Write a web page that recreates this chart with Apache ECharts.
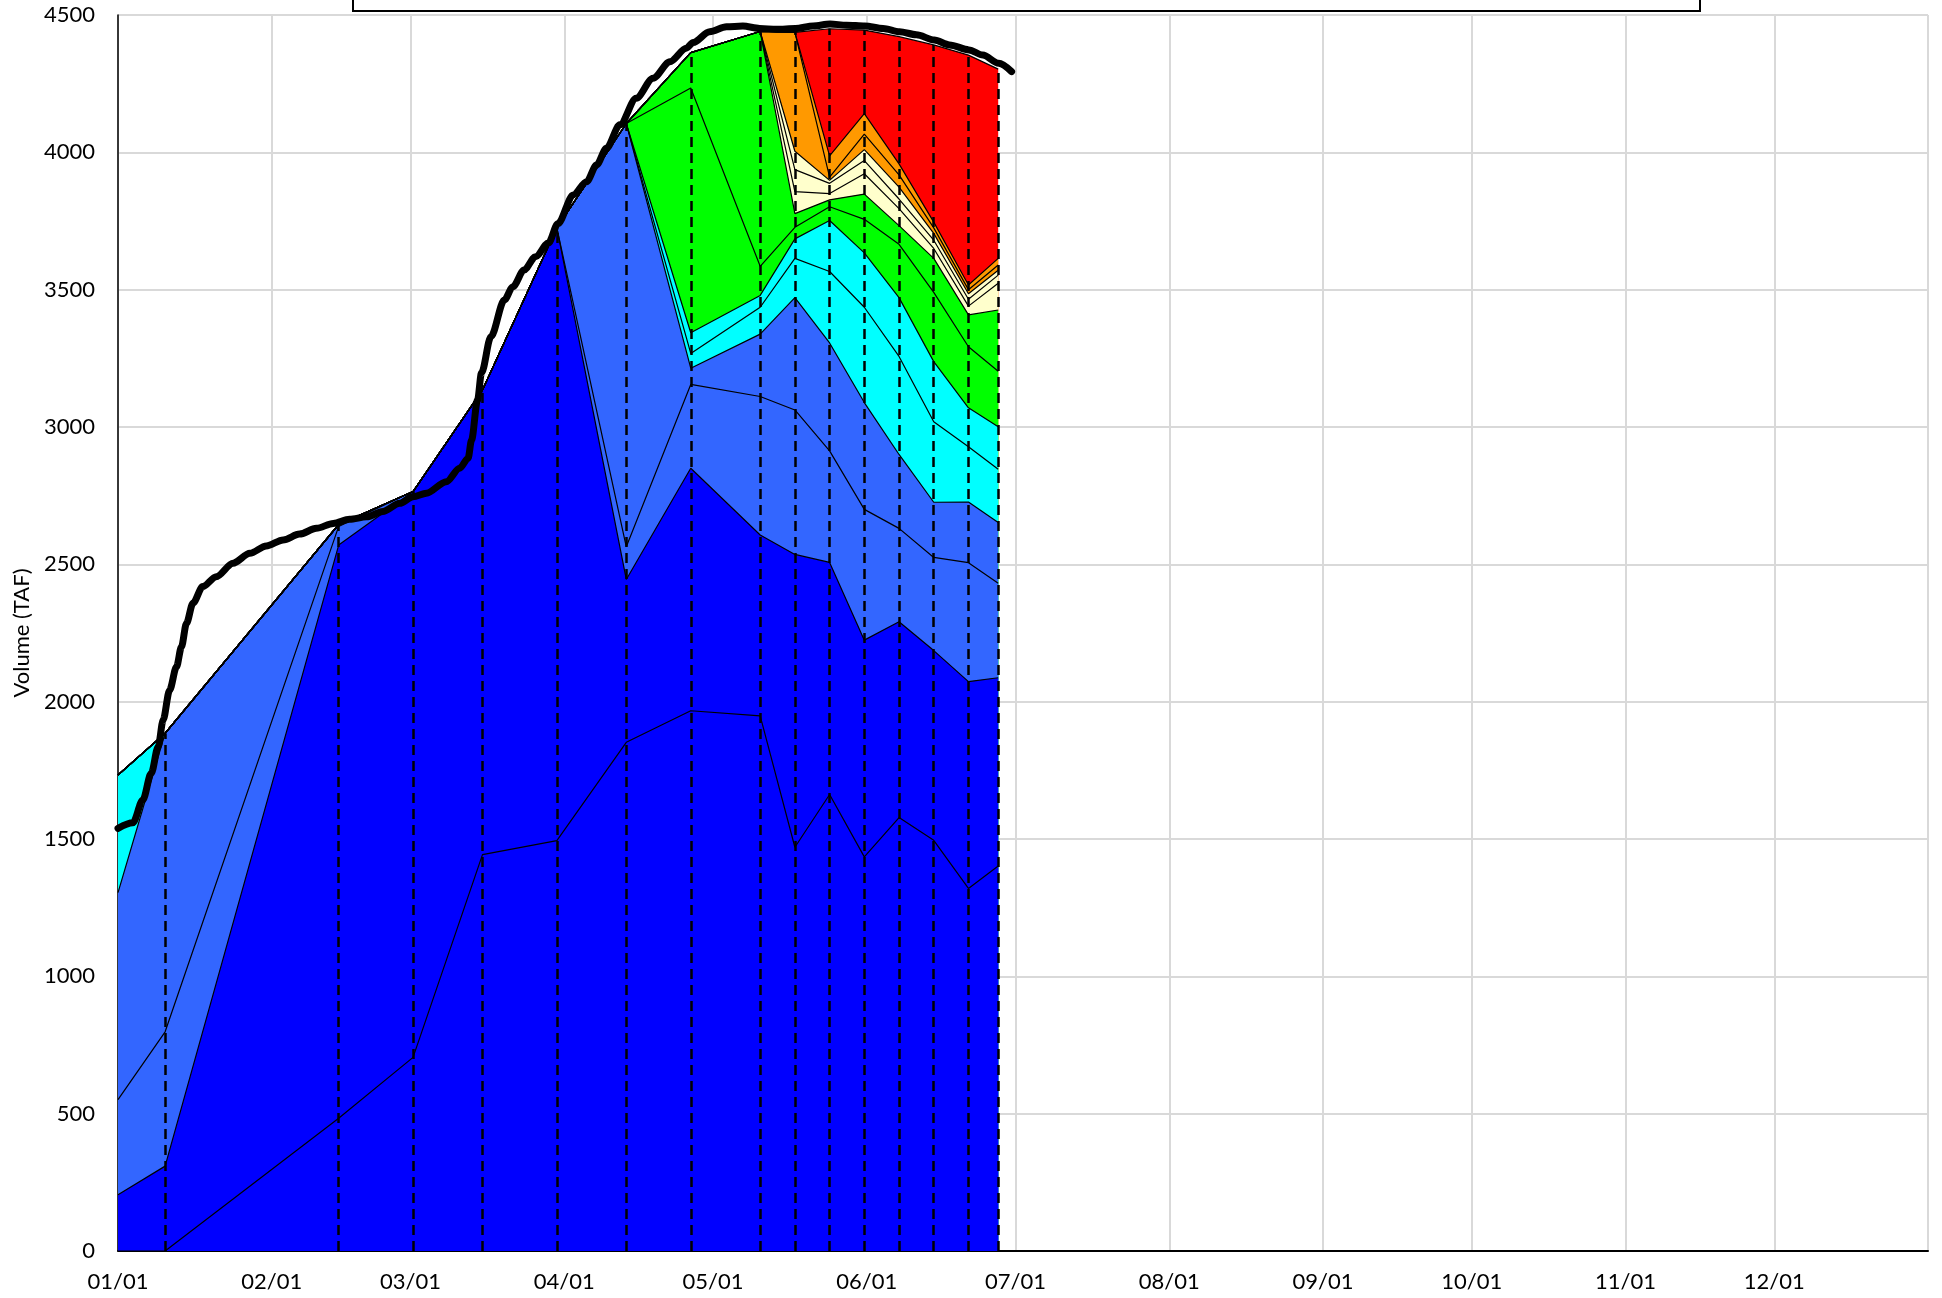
<!DOCTYPE html>
<html><head><meta charset="utf-8">
<script src="https://cdn.jsdelivr.net/npm/echarts@6/dist/echarts.min.js"></script>
<style>html,body{margin:0;padding:0;background:#fff}#c{width:1942px;height:1298px}</style>
</head><body><div id="c"></div>
<script>
// ---- data ----
const YEAR_START = new Date(2023, 0, 1).getTime();
const DAY = 86400000;
// forecast dates as day offsets from 01/01
const fcDays = [0, 9.5, 44.5, 59.5, 73.5, 88.5, 102.5, 115.5, 129.5, 136.5, 143.5, 150.5, 157.5, 164.5, 171.5, 177.5];
// cumulative layer tops (TAF), bottom layer first
const L1  = [0, 0, 483, 705, 1443, 1494, 1852, 1967, 1948, 1470, 1662, 1435, 1578, 1495, 1320, 1402];
const L2  = [205, 309, 2570, 2765, 3135, 3725, 2445, 2850, 2607, 2536, 2507, 2224, 2291, 2186, 2073, 2087];
const L3  = [551, 798, 2638, 2765, 3135, 3725, 2564, 3155, 3111, 3062, 2913, 2700, 2631, 2525, 2506, 2431];
const L4  = [1305, 1885, 2645, 2765, 3135, 3725, 4105, 3214, 3338, 3471, 3306, 3089, 2900, 2726, 2727, 2652];
const L5  = [1733, 1885, 2645, 2765, 3135, 3725, 4105, 3268, 3436, 3614, 3566, 3436, 3257, 3019, 2928, 2846];
const L6  = [1733, 1885, 2645, 2765, 3135, 3725, 4105, 3343, 3479, 3685, 3752, 3634, 3471, 3238, 3070, 3001];
const L7  = [1733, 1885, 2645, 2765, 3135, 3725, 4105, 4234, 3585, 3727, 3802, 3756, 3665, 3490, 3292, 3203];
const L8  = [1733, 1885, 2645, 2765, 3135, 3725, 4105, 4363, 4440, 3777, 3827, 3848, 3733, 3614, 3408, 3426];
const L9  = [1733, 1885, 2645, 2765, 3135, 3725, 4105, 4363, 4440, 3857, 3850, 3922, 3795, 3650, 3440, 3523];
const L10 = [1733, 1885, 2645, 2765, 3135, 3725, 4105, 4363, 4440, 3937, 3887, 3970, 3830, 3680, 3465, 3553];
const L11 = [1733, 1885, 2645, 2765, 3135, 3725, 4105, 4363, 4440, 4004, 3898, 4010, 3873, 3705, 3485, 3571];
const L12 = [1733, 1885, 2645, 2765, 3135, 3725, 4105, 4363, 4440, 4437, 3910, 4066, 3918, 3725, 3500, 3590];
const L13 = [1733, 1885, 2645, 2765, 3135, 3725, 4105, 4363, 4440, 4437, 3987, 4141, 3958, 3746, 3517, 3614];
const L14 = [1733, 1885, 2645, 2765, 3135, 3725, 4105, 4363, 4440, 4437, 4450, 4445, 4421, 4391, 4354, 4303];
const layerColors = ['#0000FF', '#0000FF', '#3366FF', '#3366FF', '#00FFFF', '#00FFFF', '#00FF00', '#00FF00',
                     '#FFFFCC', '#FFFFCC', '#FFFFCC', '#FF9900', '#FF9900', '#FF0000'];
// observed volume (thick black line)
const obsDays = [0, 3.0, 5.0, 6.7, 8.1, 9.1, 10.4, 11.8, 12.8, 13.8, 15.1, 17.1, 19.8, 23.2, 26.6, 29.9, 33.3, 36.6, 40.0,
  43.4, 46.7, 50.1, 53.4, 56.8, 59.5, 62.2, 66.2, 68.9, 70.6, 71.3, 72.5, 73.3, 75.2, 77.9, 79.6, 81.9, 84.2, 86.8,
  88.7, 91.8, 94.5, 96.5, 98.5, 101.2, 104.5, 107.9, 111.3, 114.6, 116.0, 119.3, 122.7, 126.0, 129.4, 132.8, 136.6,
  140.2, 143.6, 146.9, 150.6, 154.3, 157.6, 161.0, 164.6, 167.7, 171.6, 174.4, 177.6, 180.2];
const obsVals = [1539, 1559, 1642, 1739, 1836, 1933, 2042, 2127, 2200, 2285, 2358, 2419, 2455, 2504, 2540, 2567, 2589, 2610, 2631,
  2649, 2664, 2673, 2692, 2722, 2746, 2759, 2801, 2850, 2886, 2953, 3098, 3197, 3329, 3462, 3510, 3572, 3620, 3670,
  3740, 3845, 3893, 3954, 4015, 4100, 4197, 4270, 4330, 4379, 4400, 4439, 4457, 4460, 4451, 4448, 4451,
  4460, 4467, 4463, 4460, 4451, 4439, 4428, 4409, 4391, 4373, 4354, 4324, 4294];
const yMin = 0, yMax = 4500, yStep = 500;

// ---- chart ----
const toTime = d => YEAR_START + d * DAY;
const layers = [L1, L2, L3, L4, L5, L6, L7, L8, L9, L10, L11, L12, L13, L14];
const FONT = 'Lato';
const series = [];
for (let k = layers.length - 1; k >= 0; k--) {
  series.push({
    type: 'line', name: 'L' + (k + 1),
    data: fcDays.map((d, i) => [toTime(d), layers[k][i]]),
    symbol: 'none', silent: true, animation: false, z: 2,
    lineStyle: { color: '#000', width: 1.2 },
    areaStyle: { color: layerColors[k], opacity: 1 }
  });
}
series.push({
  type: 'line', name: 'dash',
  data: fcDays.map((d, i) => [toTime(d), L14[i]]),
  symbol: 'none', silent: true, animation: false, z: 3,
  lineStyle: { opacity: 0 },
  markLine: {
    silent: true, animation: false, symbol: ['none', 'none'],
    label: { show: false },
    lineStyle: { color: '#000', type: [10, 6], width: 2.5 },
    emphasis: { disabled: true },
    data: fcDays.slice(1).map((d, i) => [{ coord: [toTime(d), 0] }, { coord: [toTime(d), L14[i + 1]] }])
  }
});
series.push({
  type: 'line', name: 'obs',
  data: obsDays.map((d, i) => [toTime(d), obsVals[i]]),
  symbol: 'none', silent: true, animation: false, z: 4,
  smooth: 0.3, smoothMonotone: 'x',
  lineStyle: { color: '#000', width: 7, cap: 'round', join: 'round' }
});

const chart = echarts.init(document.getElementById('c'), null, { renderer: 'canvas' });
chart.setOption({
  animation: false,
  backgroundColor: '#fff',
  grid: { left: 118, right: 14, top: 15, bottom: 47, containLabel: false, outerBoundsMode: 'none' },
  xAxis: {
    type: 'time', min: YEAR_START, max: YEAR_START + 365 * DAY - 60000,
    splitNumber: 12, minInterval: 28 * DAY, maxInterval: 31 * DAY,
    axisLine: { show: true, lineStyle: { color: '#000', width: 2 } },
    axisTick: { show: false },
    splitLine: { show: true, lineStyle: { color: '#d9d9d9', width: 2 } },
    axisLabel: {
      color: '#000', fontSize: 22, fontFamily: FONT, margin: 20, hideOverlap: false,
      formatter: v => { const t = new Date(v); const m = t.getMonth() + 1, d = t.getDate();
        return (m < 10 ? '0' : '') + m + '/' + (d < 10 ? '0' : '') + d; }
    }
  },
  yAxis: {
    type: 'value', min: yMin, max: yMax, interval: yStep,
    name: 'Volume (TAF)', nameLocation: 'middle', nameGap: 82, nameRotate: 90,
    nameTextStyle: { color: '#000', fontSize: 22, fontFamily: FONT },
    axisLine: { show: true, lineStyle: { color: '#000', width: 1.5 } },
    axisTick: { show: false },
    splitLine: { show: true, lineStyle: { color: '#d9d9d9', width: 2 } },
    axisLabel: { color: '#000', fontSize: 22, fontFamily: FONT, margin: 23, formatter: v => String(v) }
  },
  graphic: [{
    type: 'rect', z: 100, silent: true,
    shape: { x: 353, y: -20, width: 1347, height: 31 },
    style: { fill: '#fff', stroke: '#000', lineWidth: 2 }
  }],
  series: series
});
</script></body></html>
